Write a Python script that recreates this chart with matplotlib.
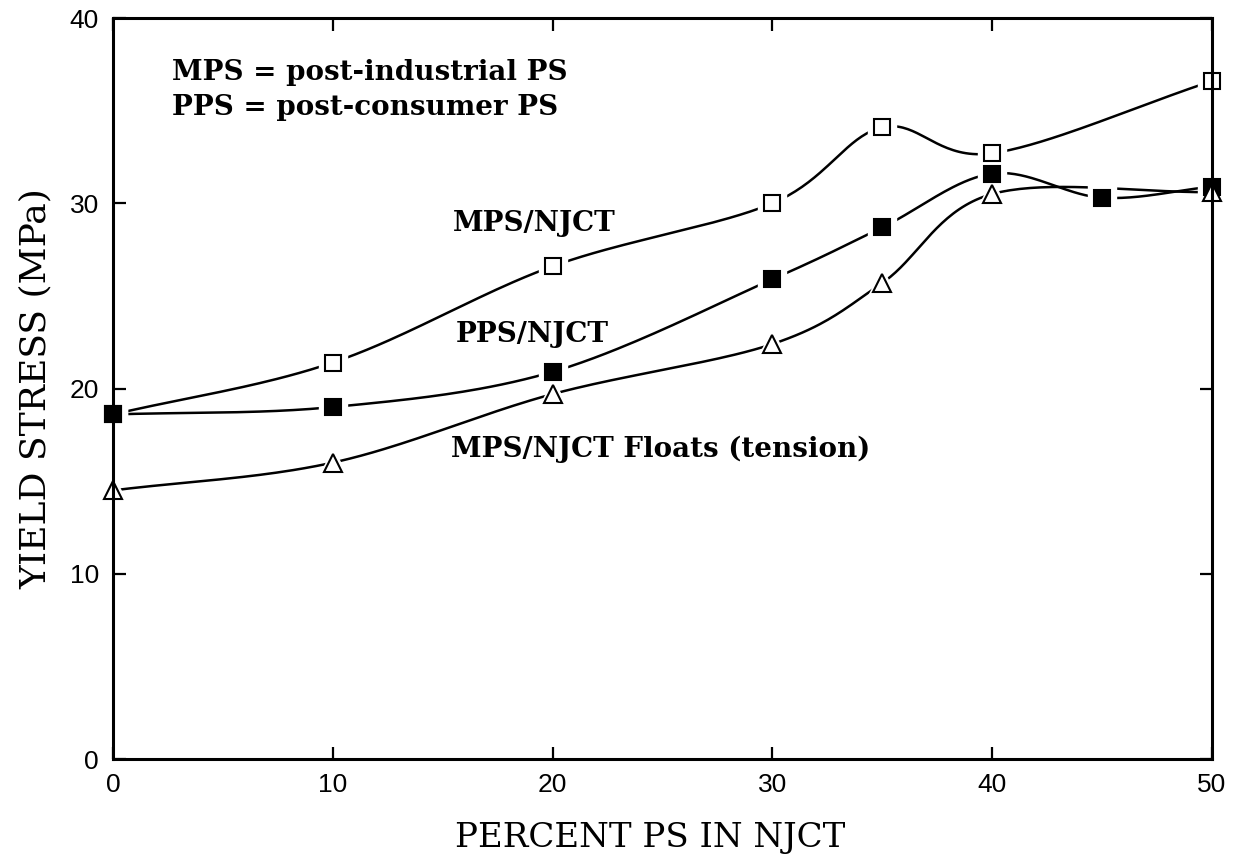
import numpy as np
import matplotlib.pyplot as plt

# Data
pct_mps = [0, 10, 20, 30, 35, 40, 50]
mps_njct = [18.6, 21.4, 26.6, 30.0, 34.1, 32.7, 36.6]

pct_pps = [0, 10, 20, 30, 35, 40, 45, 50]
pps_njct = [18.6, 19.0, 20.9, 25.9, 28.7, 31.6, 30.3, 30.9]

pct_float = [0, 10, 20, 30, 35, 40, 50]
mps_floats = [14.5, 16.0, 19.7, 22.4, 25.7, 30.5, 30.6]

xticks = [0, 10, 20, 30, 40, 50]
yticks = [0, 10, 20, 30, 40]


def smooth(x, y, n=40):
    # Catmull-Rom curve through the points (drawing only)
    x = np.asarray(x, float)
    y = np.asarray(y, float)
    px = np.concatenate([[2 * x[0] - x[1]], x, [2 * x[-1] - x[-2]]])
    py = np.concatenate([[2 * y[0] - y[1]], y, [2 * y[-1] - y[-2]]])
    t = np.linspace(0, 1, n)
    xs, ys = [], []
    for i in range(1, len(px) - 2):
        for p, out in ((px, xs), (py, ys)):
            p0, p1, p2, p3 = p[i - 1], p[i], p[i + 1], p[i + 2]
            out.extend(0.5 * (2 * p1 + (-p0 + p2) * t
                              + (2 * p0 - 5 * p1 + 4 * p2 - p3) * t ** 2
                              + (-p0 + 3 * p1 - 3 * p2 + p3) * t ** 3))
    return np.array(xs), np.array(ys)


fig = plt.figure(figsize=(12.36, 8.63), dpi=100)
ax = fig.add_axes([0.0914, 0.1205, 0.8892, 0.8586])

series = [
    (pct_mps, mps_njct, 's', 'white', 11),
    (pct_pps, pps_njct, 's', 'black', 11),
    (pct_float, mps_floats, '^', 'white', 13),
]

for x, y, m, fc, ms in series:
    sx, sy = smooth(x, y)
    ax.plot(sx, sy, color='black', lw=1.8, zorder=2, clip_on=False)
for x, y, m, fc, ms in series:
    # white halo so the line stops short of each marker
    ax.plot(x, y, ls='none', marker=m, ms=ms + 9, mfc='white', mec='white',
            zorder=3, clip_on=False)
for x, y, m, fc, ms in series:
    ax.plot(x, y, ls='none', marker=m, ms=ms, mfc=fc, mec='black', mew=1.5,
            zorder=4, clip_on=False)

ax.set_xlim(0, 50)
ax.set_ylim(0, 40)
ax.set_xticks(xticks)
ax.set_yticks(yticks)
ax.tick_params(direction='in', length=9, width=1.6, top=True, right=True,
               labelsize=19, pad=10)
for lab in ax.get_xticklabels() + ax.get_yticklabels():
    lab.set_family('Liberation Sans')
for s in ax.spines.values():
    s.set_linewidth(2.2)
    s.set_zorder(5)

ax.set_xlabel('PERCENT PS IN NJCT', family='DejaVu Serif', fontsize=24.5,
              labelpad=12)
ax.set_ylabel('YIELD STRESS (MPa)', family='DejaVu Serif', fontsize=26,
              labelpad=12)
ax.xaxis.set_label_coords(0.489, -0.085)

bold = dict(family='DejaVu Serif', fontweight='bold', fontsize=20,
            va='center', ha='left')
ax.text(2.68, 37.05, 'MPS = post-industrial PS', **bold)
ax.text(2.68, 35.15, 'PPS = post-consumer PS', **bold)
ax.text(15.45, 28.9, 'MPS/NJCT', **bold)
ax.text(15.6, 22.9, 'PPS/NJCT', **bold)
ax.text(15.4, 16.7, 'MPS/NJCT Floats (tension)', **bold)

fig.savefig('out.png', dpi=100)
